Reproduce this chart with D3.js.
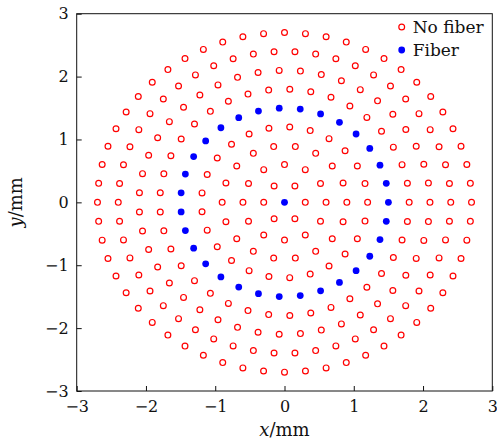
<!DOCTYPE html>
<html>
<head>
<meta charset="utf-8">
<script src="https://cdn.jsdelivr.net/npm/d3@7"></script>
<style>
  body { margin: 0; background: #fff; }
  text { font-family: "DejaVu Serif", serif; }
</style>
</head>
<body>
<div id="chart"></div>
<script>
// ring layout: radius (mm), points on ring, class
const ringRadius = [0, 0.3, 0.6, 0.9, 1.2, 1.5, 1.8, 2.1, 2.4, 2.7];
const ringCount  = [1, 6, 12, 18, 25, 31, 37, 43, 50, 56];
const ringClass  = ["Fiber", "No fiber", "No fiber", "No fiber", "No fiber",
                    "Fiber", "No fiber", "No fiber", "No fiber", "No fiber"];
const legendLabels = ["No fiber", "Fiber"];
const xTicks = [-3, -2, -1, 0, 1, 2, 3];
const yTicks = [-3, -2, -1, 0, 1, 2, 3];

const width = 497, height = 443;
const margin = { top: 13.7, right: 4.7, bottom: 52, left: 76.7 };

const points = [];
ringRadius.forEach((r, i) => {
  const n = ringCount[i];
  for (let j = 0; j < n; j++) {
    const a = 2 * Math.PI * j / n;
    points.push({ x: r * Math.cos(a), y: r * Math.sin(a), cls: ringClass[i] });
  }
});

const svg = d3.select("#chart").append("svg")
  .attr("width", width)
  .attr("height", height);

const x = d3.scaleLinear().domain([-3, 3]).range([margin.left, width - margin.right]);
const y = d3.scaleLinear().domain([-3, 3]).range([height - margin.bottom, margin.top]);

const color = d3.scaleOrdinal().domain(legendLabels).range(["#ff0000", "#0000ff"]);

// axes with inward ticks
const xAxis = svg.append("g")
  .attr("transform", `translate(0,${y(-3)})`)
  .call(d3.axisBottom(x).tickValues(xTicks).tickFormat(d3.format("d"))
    .tickSizeInner(-5).tickSizeOuter(0).tickPadding(10));

const yAxis = svg.append("g")
  .attr("transform", `translate(${x(-3)},0)`)
  .call(d3.axisLeft(y).tickValues(yTicks).tickFormat(d3.format("d"))
    .tickSizeInner(-5).tickSizeOuter(0).tickPadding(8));

[xAxis, yAxis].forEach(a => {
  a.select(".domain").remove();
  a.selectAll("text")
    .style("font-family", "'DejaVu Serif', serif")
    .style("font-size", "16px")
    .attr("fill", "#111");
  a.selectAll("line").attr("stroke", "#111");
});

svg.append("rect")
  .attr("x", x(-3))
  .attr("y", y(3))
  .attr("width", x(3) - x(-3))
  .attr("height", y(-3) - y(3))
  .attr("fill", "none")
  .attr("stroke", "#111")
  .attr("stroke-width", 1);

// points
svg.append("g").selectAll("circle")
  .data(points.filter(d => d.cls === "No fiber"))
  .join("circle")
  .attr("cx", d => x(d.x))
  .attr("cy", d => y(d.y))
  .attr("r", 2.9)
  .attr("fill", "none")
  .attr("stroke", color("No fiber"))
  .attr("stroke-width", 1.2);

svg.append("g").selectAll("circle")
  .data(points.filter(d => d.cls === "Fiber"))
  .join("circle")
  .attr("cx", d => x(d.x))
  .attr("cy", d => y(d.y))
  .attr("r", 3.4)
  .attr("fill", color("Fiber"));

// legend
const legend = svg.append("g");
legendLabels.forEach((lab, i) => {
  const cy = 27 + i * 23;
  const c = legend.append("circle")
    .attr("cx", 401.7)
    .attr("cy", cy);
  if (lab === "No fiber") {
    c.attr("r", 2.9).attr("fill", "none").attr("stroke", color(lab)).attr("stroke-width", 1.2);
  } else {
    c.attr("r", 3.4).attr("fill", color(lab));
  }
  legend.append("text")
    .attr("x", 412.7)
    .attr("y", cy + 6)
    .style("font-size", "17px")
    .attr("fill", "#111")
    .text(lab);
});

// axis labels
const xl = svg.append("text")
  .attr("x", x(0))
  .attr("y", 436)
  .attr("text-anchor", "middle")
  .style("font-size", "18px")
  .attr("fill", "#111");
xl.append("tspan").style("font-style", "italic").text("x");
xl.append("tspan").text("/mm");

const yl = svg.append("text")
  .attr("transform", `translate(22,${y(0)}) rotate(-90)`)
  .attr("text-anchor", "middle")
  .style("font-size", "18px")
  .attr("fill", "#111");
yl.append("tspan").style("font-style", "italic").text("y");
yl.append("tspan").text("/mm");
</script>
</body>
</html>
